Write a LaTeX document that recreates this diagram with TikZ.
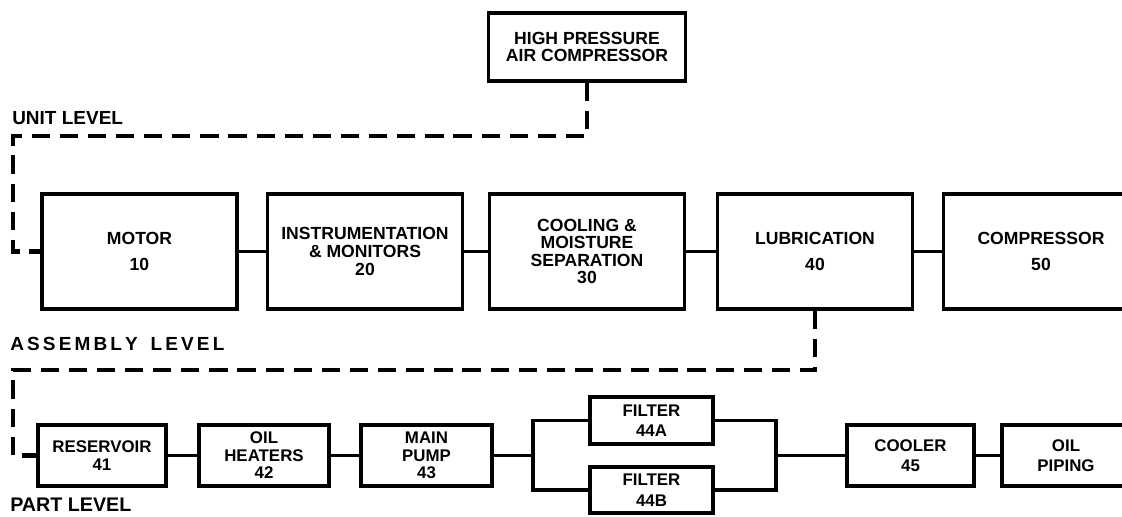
\documentclass[tikz,border=0pt]{standalone}
\usepackage{fontspec}
\setmainfont{Liberation Sans}
\usetikzlibrary{positioning}

\tikzset{
  blk/.style={draw, line width=2.2pt, align=center, inner sep=0pt,
    font=\bfseries\fontsize{12.5}{12.5}\selectfont},
  bigblk/.style={blk, minimum width=4.875cm, minimum height=2.875cm},
  smlblk/.style={blk, minimum width=3.2cm, minimum height=1.525cm,
    font=\bfseries\fontsize{12}{12.5}\selectfont},
  link/.style={line width=2.2pt},
  tie/.style={line width=3pt, dash pattern=on 13pt off 7pt},
  lvl/.style={anchor=west, inner sep=0pt, font=\bfseries\fontsize{13.5}{14}\selectfont}
}

\begin{document}
\begin{tikzpicture}[x=0.025cm, y=-0.025cm]
  \clip (0,0) rectangle (1122,516);

  % unit level
  \node[blk, minimum width=4.925cm, minimum height=1.7cm] (hpac) at (587,47)
  {HIGH PRESSURE\\AIR COMPRESSOR};
  \node[lvl] (unitlbl) at (12,118) {UNIT LEVEL};

  % assembly level
  \node[bigblk] (motor) at (139.5,251.5) {MOTOR\\[6pt]10};
  \node[bigblk] (instr) at (365,251.5) {INSTRUMENTATION\\\& MONITORS\\20};
  \node[bigblk] (cool)  at (587,251.5) {COOLING \&\\MOISTURE\\SEPARATION\\30};
  \node[bigblk] (lube)  at (815,251.5) {LUBRICATION\\[6pt]40};
  \node[bigblk] (comp)  at (1041,251.5) {COMPRESSOR\\[6pt]50};
  \node[lvl] (asmlbl) at (10,344) {A\,S\,S\,E\,M\,B\,L\,Y\hspace{9pt}L\,E\,V\,E\,L};

  \draw[link] (motor) -- (instr);
  \draw[link] (instr) -- (cool);
  \draw[link] (cool) -- (lube);
  \draw[link] (lube) -- (comp);

  % part level
  \node[smlblk] (res)    at (102,455.5) {RESERVOIR\\41};
  \node[smlblk, minimum width=3.25cm] (heat) at (264,455.5) {OIL\\HEATERS\\42};
  \node[smlblk, minimum width=3.275cm] (pump) at (426.5,455.5) {MAIN\\PUMP\\43};
  \node[smlblk, minimum width=3.075cm, minimum height=1.175cm] (filA) at (651.5,420.5)
  {FILTER\\[2pt]44A};
  \node[smlblk, minimum width=3.075cm, minimum height=1.15cm] (filB) at (651.5,490)
  {FILTER\\[2pt]44B};
  \node[smlblk, minimum width=3.175cm] (cooler) at (910.5,455.5) {COOLER\\[2pt]45};
  \node[smlblk] (piping) at (1066,455.5) {OIL\\[2pt]PIPING};
  \node[lvl, font=\bfseries\fontsize{14}{14}\selectfont] (partlbl) at (10,505)
  {PART LEVEL};

  \coordinate (fl) at (533,455.5);
  \coordinate (fr) at (776,455.5);
  \draw[link] (res) -- (heat);
  \draw[link] (heat) -- (pump);
  \draw[link] (pump) -- (fl);
  \draw[link] (filA.west) -| (fl) |- (filB.west);
  \draw[link] (filA.east) -| (fr) |- (filB.east);
  \draw[link] (fr) -- (cooler);
  \draw[link] (cooler) -- (piping);

  % dashed ties between levels
  \coordinate (ub) at (13,136);
  \coordinate (lb) at (13,370);
  \draw[tie] (hpac.south) |- (ub) |- (motor.west);
  \draw[tie] (lube.south) |- (lb) |- (res.west);
\end{tikzpicture}
\end{document}
